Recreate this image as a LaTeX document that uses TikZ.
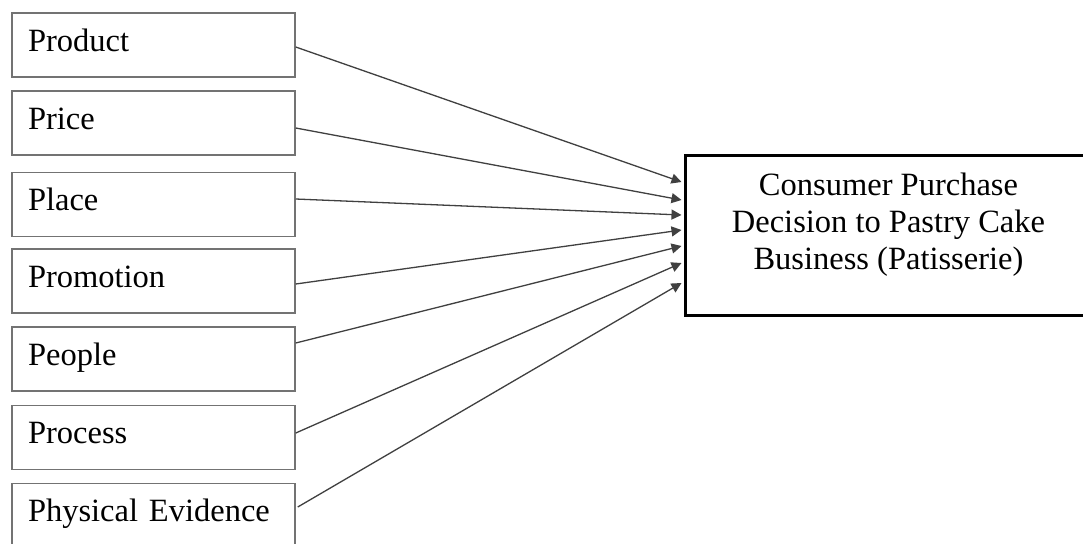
\documentclass[tikz,border=0pt]{standalone}
\usepackage{fontspec}
\setmainfont{Liberation Serif}
\usetikzlibrary{arrows.meta,calc}
\begin{document}
\begin{tikzpicture}[x=0.5pt,y=-0.5pt,
  factor/.style={draw=black!55,line width=0.75pt,minimum width=141.5pt,minimum height=32pt,
    inner xsep=8pt,inner ysep=0pt,text width=125.5pt,align=left,
    text height=12pt,text depth=6pt,font=\fontsize{16.25}{18.5}\selectfont},
  outcome/.style={draw=black,line width=1.5pt,inner sep=0pt,minimum width=203.5pt,minimum height=80pt},
  link/.style={draw=black!75,line width=0.65pt,-{Triangle[length=5pt,width=5pt]}}]
\fill[white] (0,0) rectangle (1083,543);
\useasboundingbox (0,0) rectangle (1083,543);
\node[factor] (p1) at (153.5,45) {Product};
\node[factor] (p2) at (153.5,123) {Price};
\node[factor] (p3) at (153.5,204.5) {Place};
\node[factor] (p4) at (153.5,281) {Promotion};
\node[factor] (p5) at (153.5,359) {People};
\node[factor] (p6) at (153.5,437.5) {Process};
\node[factor] (p7) at (153.5,515.5) {Physical Evidence};
\node[outcome] (d) at (888.5,235) {\parbox[c][80pt][t]{200pt}{\centering\fontsize{16.25}{18.5}\selectfont\rule{0pt}{20pt}Consumer Purchase\\Decision to Pastry Cake\\Business (Patisserie)}};
\coordinate (e1) at ($(d.west)+(-2,-53)$);
\coordinate (e2) at ($(d.west)+(-2,-35)$);
\coordinate (e3) at ($(d.west)+(-2,-20)$);
\coordinate (e4) at ($(d.west)+(-2,-5)$);
\coordinate (e5) at ($(d.west)+(-2,11)$);
\coordinate (e6) at ($(d.west)+(-2,28)$);
\coordinate (e7) at ($(d.west)+(-2,48)$);
\draw[link] ($(p1.east)+(0,2)$) -- (e1);
\draw[link] ($(p2.east)+(0,5)$) -- (e2);
\draw[link] ($(p3.east)+(0,-5.5)$) -- (e3);
\draw[link] ($(p4.east)+(0,3)$) -- (e4);
\draw[link] ($(p5.east)+(0,-16)$) -- (e5);
\draw[link] ($(p6.east)+(0,-4.5)$) -- (e6);
\draw[link] ($(p7.east)+(2,-8.5)$) -- (e7);
\end{tikzpicture}
\end{document}
